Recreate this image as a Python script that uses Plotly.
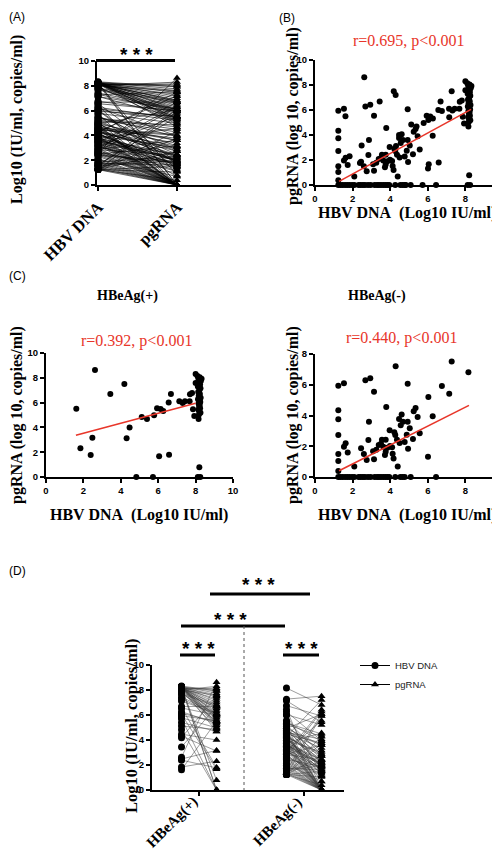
import numpy as np
import plotly.graph_objects as go

W, H = 500, 852

# ---------------- data (log10 values) ----------------
# HBeAg(+) patients: HBV DNA (log10 IU/ml) and pgRNA (log10 copies/ml), paired
pos_dna = [1.62, 1.84, 2.62, 2.48, 2.39, 3.44, 4.19, 4.31, 4.47, 4.83, 5.12, 5.40,
           5.72, 5.78, 5.94, 6.05, 6.13, 6.27, 6.56, 6.58, 6.68, 7.13, 7.31, 7.43,
           7.68, 7.70, 7.81, 7.86, 7.93, 8.00, 8.00, 8.16, 8.20, 8.12, 8.25, 8.32,
           8.10, 8.22, 8.15, 8.28, 8.18, 8.24, 8.12, 8.26, 8.20, 8.14, 8.23, 8.17,
           8.27, 8.13, 8.21, 8.25, 8.16, 8.22, 8.19, 8.24, 8.15, 8.20, 8.26, 8.18]
pos_rna = [5.51, 2.31, 8.63, 3.17, 1.77, 6.69, 7.50, 3.12, 4.00, 0.00, 4.84, 4.68,
           0.00, 4.97, 5.54, 1.67, 5.48, 5.32, 6.00, 1.80, 6.69, 6.10, 5.97, 6.10,
           6.10, 6.67, 6.77, 5.46, 4.92, 8.30, 7.58, 4.68, 0.78, 0.00, 0.00, 7.93,
           8.15, 8.05, 7.95, 7.75, 7.62, 7.45, 7.30, 7.15, 7.00, 6.85, 6.70, 6.55,
           6.40, 6.28, 6.15, 6.05, 5.92, 5.80, 5.68, 5.55, 5.42, 5.30, 5.18, 5.05]

# HBeAg(-) patients, paired
neg_dna = [1.24, 1.24, 1.24, 1.24, 1.24, 1.24, 1.24, 1.54, 1.54, 1.63, 1.74, 2.09,
           2.45, 2.68, 2.94, 2.60, 2.75, 2.84, 2.87, 3.14, 3.09, 3.14, 3.26, 3.39,
           3.51, 3.56, 3.63, 3.72, 3.76, 3.79, 3.85, 3.76, 3.97, 3.99, 4.10, 4.13,
           4.18, 4.22, 4.29, 4.27, 4.36, 4.40, 4.47, 4.50, 4.56, 4.61, 4.68, 4.77,
           4.88, 4.93, 4.93, 4.95, 5.04, 5.21, 5.25, 5.35, 5.46, 5.57, 6.03, 6.01,
           6.26, 6.75, 7.14, 7.27, 8.16,
           1.24, 1.35, 1.47, 1.60, 1.72, 1.84, 1.97, 2.09, 2.32, 2.43, 2.55, 2.66,
           2.82, 2.96, 3.17, 3.30, 3.40, 3.51, 3.63, 3.74, 3.85, 3.95, 4.27, 4.54,
           4.66, 4.77, 5.09, 6.44]
neg_rna = [5.94, 4.34, 3.75, 2.73, 1.50, 1.04, 0.39, 6.10, 1.97, 2.19, 1.60, 0.69,
           1.87, 6.29, 6.42, 1.50, 1.10, 2.41, 3.60, 5.55, 1.67, 1.15, 1.78, 2.08,
           2.17, 2.43, 1.97, 1.43, 2.43, 4.56, 1.91, 1.65, 3.04, 2.02, 1.93, 1.52,
           1.21, 2.91, 7.20, 2.73, 2.43, 0.69, 3.77, 2.21, 3.36, 4.06, 3.60, 2.28,
           2.75, 6.07, 3.60, 1.84, 3.17, 2.47, 4.27, 4.49, 3.90, 2.84, 5.21, 1.32,
           3.95, 5.92, 5.42, 7.51, 6.81,
           0.00, 0.00, 0.00, 0.00, 0.00, 0.00, 0.00, 0.00, 0.00, 0.00, 0.00, 0.00,
           0.00, 0.00, 0.00, 0.00, 0.00, 0.00, 0.00, 0.00, 0.00, 0.00, 0.00, 0.00,
           0.00, 0.00, 0.00, 0.00]

# regression lines as drawn in the picture (end points, data units)
fit_all_x, fit_all_y = [1.28, 8.30], [0.29, 6.05]
fit_pos_x, fit_pos_y = [1.60, 8.00], [3.36, 5.95]
fit_neg_x, fit_neg_y = [1.28, 8.19], [0.41, 4.66]

a_categories = ["HBV DNA", "pgRNA"]
d_groups = ["HBeAg(+)", "HBeAg(-)"]
r_all = "r=0.695, p<0.001"
r_pos = "r=0.392, p<0.001"
r_neg = "r=0.440, p<0.001"
sig_text = "* * *"
ticks10 = [0, 2, 4, 6, 8, 10]
ticks8 = [0, 2, 4, 6, 8]

# ---------------- helpers ----------------
SERIF = "Liberation Serif, Times New Roman, serif"
SANS = "Liberation Sans, Arial, sans-serif"
RED = "#e8362a"


def px(x):
    return x / W


def py(y):
    return 1 - y / H


def dom_x(a, b):
    return [px(a), px(b)]


def dom_y(top, bottom):
    return [py(bottom), py(top)]


all_dna = pos_dna + neg_dna
all_rna = pos_rna + neg_rna

fig = go.Figure()


def pair_lines(x0, x1, ys0, ys1):
    xs, ys = [], []
    for a, b in zip(ys0, ys1):
        xs += [x0, x1, None]
        ys += [a, b, None]
    return xs, ys


# ---- Panel A ----
xs, ys = pair_lines(0, 1, all_dna, all_rna)
fig.add_trace(go.Scatter(x=xs, y=ys, mode="lines", line=dict(color="black", width=0.6),
                         xaxis="x", yaxis="y", showlegend=False, hoverinfo="skip"))
fig.add_trace(go.Scatter(x=[0] * len(all_dna), y=all_dna, mode="markers",
                         marker=dict(symbol="circle", size=7, color="black"),
                         xaxis="x", yaxis="y", showlegend=False, cliponaxis=False))
fig.add_trace(go.Scatter(x=[1] * len(all_rna), y=all_rna, mode="markers",
                         marker=dict(symbol="triangle-up", size=7, color="black"),
                         xaxis="x", yaxis="y", showlegend=False, cliponaxis=False))


# ---- scatter panels B, C-left, C-right ----
def scatter_panel(xv, yv, fx, fy, ax):
    fig.add_trace(go.Scatter(x=xv, y=yv, mode="markers",
                             marker=dict(symbol="circle", size=6, color="black"),
                             xaxis="x" + ax, yaxis="y" + ax, showlegend=False,
                             cliponaxis=False))
    fig.add_trace(go.Scatter(x=fx, y=fy, mode="lines",
                             line=dict(color=RED, width=1.6),
                             xaxis="x" + ax, yaxis="y" + ax, showlegend=False))


scatter_panel(all_dna, all_rna, fit_all_x, fit_all_y, "2")
scatter_panel(pos_dna, pos_rna, fit_pos_x, fit_pos_y, "3")
scatter_panel(neg_dna, neg_rna, fit_neg_x, fit_neg_y, "4")

# ---- Panel D ----
off = 0.167
for g, (dna, rna) in enumerate([(pos_dna, pos_rna), (neg_dna, neg_rna)], start=1):
    xs, ys = pair_lines(g - off, g + off, dna, rna)
    fig.add_trace(go.Scatter(x=xs, y=ys, mode="lines", line=dict(color="#3a3a3a", width=0.5),
                             xaxis="x5", yaxis="y5", showlegend=False, hoverinfo="skip"))
    fig.add_trace(go.Scatter(x=[g - off] * len(dna), y=dna, mode="markers",
                             marker=dict(symbol="circle", size=7, color="black"),
                             xaxis="x5", yaxis="y5", showlegend=False, cliponaxis=False))
    fig.add_trace(go.Scatter(x=[g + off] * len(rna), y=rna, mode="markers",
                             marker=dict(symbol="triangle-up", size=7, color="black"),
                             xaxis="x5", yaxis="y5", showlegend=False, cliponaxis=False))

# legend entries
fig.add_trace(go.Scatter(x=[None], y=[None], mode="lines+markers", name="HBV DNA",
                         marker=dict(symbol="circle", size=7, color="black"),
                         line=dict(color="black", width=1), xaxis="x5", yaxis="y5"))
fig.add_trace(go.Scatter(x=[None], y=[None], mode="lines+markers", name="pgRNA",
                         marker=dict(symbol="triangle-up", size=7, color="black"),
                         line=dict(color="black", width=1), xaxis="x5", yaxis="y5"))

# ---------------- axes ----------------
base = dict(showline=True, linecolor="black", linewidth=2, ticks="outside", ticklen=4,
            tickwidth=1.5, tickcolor="black", showgrid=False, zeroline=False,
            automargin=False,
            tickfont=dict(family=SANS, size=9.5, color="black", weight="bold"))


def num_ticks(vals):
    return dict(tickmode="array", tickvals=vals, ticktext=[f"<b>{v}</b>" for v in vals])


cat_font = dict(family=SERIF, size=16.5, color="black", weight="bold")

layout_axes = dict(
    xaxis=dict(base, domain=dom_x(89, 223), range=[-0.013, 1.684], anchor="y",
               tickmode="array", tickvals=[0, 1], ticktext=a_categories, tickangle=-45,
               tickfont=cat_font),
    yaxis=dict(base, domain=dom_y(53, 177), range=[0, 10], anchor="x", **num_ticks(ticks10)),
    xaxis2=dict(base, domain=dom_x(307, 495), range=[0, 10], anchor="y2", **num_ticks(ticks10)),
    yaxis2=dict(base, domain=dom_y(52, 177), range=[0, 10], anchor="x2", **num_ticks(ticks10)),
    xaxis3=dict(base, domain=dom_x(38, 225), range=[0, 10], anchor="y3", **num_ticks(ticks10)),
    yaxis3=dict(base, domain=dom_y(345, 469), range=[0, 10], anchor="x3", **num_ticks(ticks10)),
    xaxis4=dict(base, domain=dom_x(307, 495), range=[0, 10], anchor="y4", **num_ticks(ticks10)),
    yaxis4=dict(base, domain=dom_y(346, 469), range=[0, 8], anchor="x4", **num_ticks(ticks8)),
    xaxis5=dict(base, domain=dom_x(144, 336), range=[0.552, 2.381], anchor="y5",
                tickmode="array", tickvals=[1, 2], showticklabels=False),
    yaxis5=dict(base, domain=dom_y(657, 782), range=[0, 10], anchor="x5", **num_ticks(ticks10)),
)


# ---------------- annotations ----------------
def ann(text, x, y, size, color="black", bold=False, family=SERIF, angle=0):
    return dict(text=text, x=px(x), y=py(y), xref="paper", yref="paper", showarrow=False,
                xanchor="center", yanchor="middle", textangle=angle,
                font=dict(family=family, size=size, color=color,
                          weight="bold" if bold else "normal"))


ytitle_all = "Log10 (IU/ml, copies/ml)"
ytitle_rna = "pgRNA (log 10, copies/ml)"
xtitle_dna = "HBV DNA\u00a0\u00a0(Log10 IU/ml)"

annotations = [
    ann("(A)", 9, 9, 12, family=SANS),
    ann("(B)", 279, 10, 12, family=SANS),
    ann("(C)", 9, 268, 12, family=SANS),
    ann("(D)", 9, 563, 12, family=SANS),
    ann(ytitle_all, 9, 112, 16, bold=True, angle=-90),
    ann(ytitle_rna, 285, 108, 16, bold=True, angle=-90),
    ann(xtitle_dna, 399, 205, 16, bold=True),
    ann(ytitle_rna, 9, 407, 16, bold=True, angle=-90),
    ann(xtitle_dna, 131, 507, 16, bold=True),
    ann(ytitle_rna, 285, 407, 16, bold=True, angle=-90),
    ann(xtitle_dna, 399, 507, 16, bold=True),
    ann(ytitle_all, 123, 718, 16.5, bold=True, angle=-90),
    ann(r_all, 400, 33, 16, color=RED),
    ann(r_pos, 128, 333, 16, color=RED),
    ann(r_neg, 393, 330, 16, color=RED),
    ann("HBeAg(+)", 119, 288, 14, bold=True),
    ann("HBeAg(-)", 369, 288, 14, bold=True),
    ann(sig_text, 128, 46, 19, family=SANS, bold=True),
    ann(sig_text, 190, 640, 19, family=SANS, bold=True),
    ann(sig_text, 293, 640, 19, family=SANS, bold=True),
    ann(sig_text, 222, 611, 19, family=SANS, bold=True),
    ann(sig_text, 250, 576, 19, family=SANS, bold=True),
]

# rotated group labels of panel D, anchored at their tick positions
for i, label in enumerate(d_groups, start=1):
    annotations.append(dict(text=label, x=i, xref="x5", y=py(783), yref="paper",
                            xanchor="right", yanchor="top", textangle=-45, xshift=5,
                            showarrow=False,
                            font=dict(family=SERIF, size=15, color="black", weight="bold")))


def bar(x0, x1, y):
    return dict(type="line", xref="paper", yref="paper", x0=px(x0), x1=px(x1),
                y0=py(y), y1=py(y), line=dict(color="black", width=3))


shapes = [
    bar(88, 167, 52.5),
    bar(172, 207, 647),
    bar(275, 311, 647),
    bar(173, 277, 618),
    bar(202, 302, 586),
    dict(type="line", xref="paper", yref="paper", x0=px(236), x1=px(236),
         y0=py(618), y1=py(782), line=dict(color="#555555", width=1, dash="3px,3px")),
]

fig.update_layout(
    width=W, height=H, margin=dict(l=0, r=0, t=0, b=0, autoexpand=False),
    paper_bgcolor="white", plot_bgcolor="white",
    annotations=annotations, shapes=shapes,
    legend=dict(x=px(347), y=py(643), xanchor="left", yanchor="top",
                bgcolor="rgba(0,0,0,0)", font=dict(family=SANS, size=9.5, color="#222"),
                tracegroupgap=0, itemwidth=30),
    **layout_axes,
)

fig.write_html("out.html")
